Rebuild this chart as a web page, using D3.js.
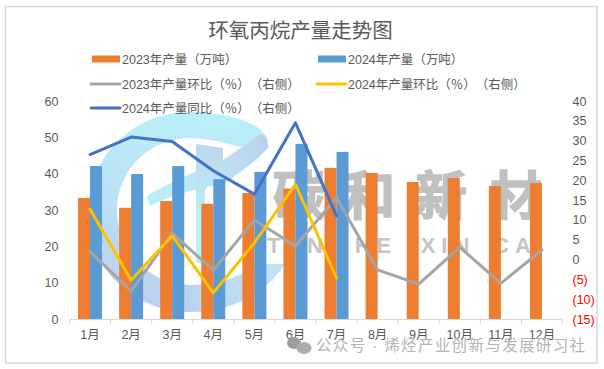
<!DOCTYPE html>
<html>
<head>
<meta charset="utf-8">
<script src="https://cdn.jsdelivr.net/npm/d3@7"></script>
<style>
  html, body { margin: 0; padding: 0; background: #fff; }
  svg { display: block; }
  text { font-family: "Liberation Sans", "Noto Sans CJK SC", sans-serif; text-spacing-trim: space-all; }
</style>
</head>
<body>
<div id="chart"></div>
<script>
// chart values
var months = ['1月', '2月', '3月', '4月', '5月', '6月', '7月', '8月', '9月', '10月', '11月', '12月'];
var output2023 = [33.3, 30.6, 32.5, 31.7, 34.7, 35.8, 41.6, 40.2, 37.7, 38.8, 36.6, 37.4];
var output2024 = [42.1, 39.9, 42.1, 38.5, 40.5, 48.2, 46.0, null, null, null, null, null];
var mom2023 = [2.0, -8.0, 6.6, -2.7, 10.0, 3.4, 15.6, -2.6, -6.2, 3.1, -6.0, 2.4];
var mom2024 = [12.7, -5.2, 6.0, -8.4, 4.2, 19.0, -4.7, null, null, null, null, null];
var yoy2024 = [26.5, 30.9, 29.8, 22.4, 16.5, 34.5, 11.0, null, null, null, null, null];
var leftTicks = [0, 10, 20, 30, 40, 50, 60];
var rightTicks = [-15, -10, -5, 0, 5, 10, 15, 20, 25, 30, 35, 40];

var barSeries = [
  { name: '2023年产量（万吨）', values: output2023, color: '#ED7D31' },
  { name: '2024年产量（万吨）', values: output2024, color: '#5B9BD5' }
];
var lineSeries = [
  { name: '2023年产量环比（％）（右侧）', values: mom2023, color: '#A5A5A5' },
  { name: '2024年产量环比（％）（右侧）', values: mom2024, color: '#FFC000' },
  { name: '2024年产量同比（％）（右侧）', values: yoy2024, color: '#4472C4' }
];

var attrs = {
  svgWidth: 604,
  svgHeight: 369,
  marginTop: 101,
  marginBottom: 50,
  marginLeft: 69.5,
  marginRight: 41.5,
  barWidth: 12,
  textColor: '#595959',
  gridColor: '#d9d9d9'
};

var calc = {};
calc.chartWidth = attrs.svgWidth - attrs.marginLeft - attrs.marginRight;
calc.chartHeight = attrs.svgHeight - attrs.marginTop - attrs.marginBottom;

//##########################  SCALES  #####################
var scales = {};
scales.x = d3.scaleBand().domain(months).range([0, calc.chartWidth]);
scales.inner = d3.scaleBand().domain([0, 1]).range([-attrs.barWidth, attrs.barWidth]);
scales.left = d3.scaleLinear().domain([0, 60]).range([calc.chartHeight, 0]);
scales.right = d3.scaleLinear().domain([-15, 40]).range([calc.chartHeight, 0]);

var svg = d3.select('#chart').append('svg')
  .attr('width', attrs.svgWidth)
  .attr('height', attrs.svgHeight);

// gradients for the logo behind the chart
var defs = svg.append('defs');
function addGradient(id, x1, y1, x2, y2, stops) {
  var g = defs.append('linearGradient').attr('id', id)
    .attr('gradientUnits', 'userSpaceOnUse')
    .attr('x1', x1).attr('y1', y1).attr('x2', x2).attr('y2', y2);
  stops.forEach(function (s) {
    g.append('stop').attr('offset', s[0]).attr('stop-color', s[1]);
  });
}
addGradient('ringFill', 190, 112, 170, 312, [[0, '#b9f0f9'], [0.35, '#bbe4f5'], [1, '#bccfee']]);
addGradient('tailFill', 170, 300, 285, 270, [[0, '#bccfee'], [1, '#bde6f6']]);
addGradient('bandFill', 150, 200, 268, 140, [[0, '#b9f0f9'], [0.6, '#bde0f3'], [1, '#bccfee']]);
addGradient('barFill', 210, 144, 210, 265, [[0, '#bdd6ee'], [0.6, '#b9f0f9'], [1, '#b9f0f9']]);

// frame
svg.append('rect')
  .attr('x', 5.5).attr('y', 6.5)
  .attr('width', 591.5).attr('height', 356.5)
  .attr('fill', '#fff')
  .attr('stroke', attrs.gridColor)
  .attr('stroke-width', 1.5);

//##########################  WATERMARK  ###################
var mark = svg.append('g').attr('class', 'watermark');
mark.append('path')
  .attr('d', 'M268,140 C262,122 225,112 190,112 C130,112 88,160 88,212 C88,270 135,312 190,312 L190,285 C150,285 117,250 117,210 C117,170 150,138 190,138 C205,138 222,142 240,147 Z')
  .attr('fill', 'url(#ringFill)');
mark.append('path')
  .attr('d', 'M190,312 C230,312 265,295 285,264 L258,264 C240,278 215,285 190,285 Z')
  .attr('fill', 'url(#tailFill)');
mark.append('path')
  .attr('d', 'M147,196 C170,182 200,170 223,160 C235,152 250,142 260,134 C266,136 269,142 268,148 C255,162 235,176 223,184 C200,188 170,195 150,206 Z')
  .attr('fill', 'url(#bandFill)');
mark.append('path')
  .attr('d', 'M196,144 L223,148 L223,165 L205,190 L205,265 L196,262 Z')
  .attr('fill', 'url(#barFill)');

var markChars = [
  { cn: '碳', en: 'TAN', x: 299, xEn: 298 },
  { cn: '和', en: 'HE', x: 369, xEn: 376 },
  { cn: '新', en: 'XIN', x: 441, xEn: 448 },
  { cn: '材', en: 'CAI', x: 516, xEn: 521 }
];
markChars.forEach(function (d) {
  mark.append('text')
    .attr('x', d.x).attr('y', 215)
    .attr('text-anchor', 'middle')
    .attr('fill', '#c0c0c0')
    .attr('stroke', '#c0c0c0')
    .attr('stroke-width', 1.6)
    .style('font-family', '"Noto Sans CJK SC"')
    .style('font-weight', 700)
    .style('font-size', '52px')
    .text(d.cn);
  mark.append('text')
    .attr('x', d.xEn).attr('y', 253)
    .attr('text-anchor', 'middle')
    .attr('fill', '#c4c4c4')
    .style('font-weight', 700)
    .style('font-size', '22px')
    .style('letter-spacing', '6px')
    .text(d.en);
});

//#######################  DRAWING ######################
var chart = svg.append('g')
  .attr('class', 'chart')
  .attr('transform', 'translate(' + attrs.marginLeft + ',' + attrs.marginTop + ')');

// bars
barSeries.forEach(function (s, i) {
  chart.append('g').attr('class', 'bars-' + i)
    .selectAll('rect')
    .data(s.values.map(function (v, j) { return { month: months[j], value: v }; })
      .filter(function (d) { return d.value !== null; }))
    .enter().append('rect')
    .attr('x', function (d) { return scales.x(d.month) + scales.x.bandwidth() / 2 + scales.inner(i); })
    .attr('y', function (d) { return scales.left(d.value); })
    .attr('width', scales.inner.bandwidth())
    .attr('height', function (d) { return calc.chartHeight - scales.left(d.value); })
    .attr('fill', s.color);
});

// bottom axis, ticks sit on the category boundaries
var bottom = chart.append('g').attr('class', 'bottom-axis')
  .attr('transform', 'translate(0,' + calc.chartHeight + ')')
  .call(d3.axisBottom(scales.x).tickSize(0).tickPadding(11));
bottom.select('.domain').attr('stroke', attrs.gridColor).attr('stroke-width', 1.2);
bottom.selectAll('text').attr('fill', attrs.textColor).style('font-size', '12.5px');
bottom.selectAll('.boundary')
  .data(d3.range(months.length + 1))
  .enter().append('line')
  .attr('class', 'boundary')
  .attr('x1', function (d) { return d * scales.x.step(); })
  .attr('x2', function (d) { return d * scales.x.step(); })
  .attr('y1', 0).attr('y2', 5)
  .attr('stroke', attrs.gridColor)
  .attr('stroke-width', 1);

// left axis
var left = chart.append('g').attr('class', 'left-axis')
  .call(d3.axisLeft(scales.left).tickValues(leftTicks).tickSize(0).tickPadding(11));
left.select('.domain').remove();
left.selectAll('text').attr('fill', attrs.textColor).style('font-size', '12.5px');

// right axis, negatives in red brackets
var right = chart.append('g').attr('class', 'right-axis')
  .attr('transform', 'translate(' + calc.chartWidth + ',0)')
  .call(d3.axisRight(scales.right).tickValues(rightTicks).tickSize(0).tickPadding(10)
    .tickFormat(function (d) { return d < 0 ? '(' + (-d) + ')' : d; }));
right.select('.domain').remove();
right.selectAll('text')
  .attr('fill', function (d) { return d < 0 ? '#ff0000' : attrs.textColor; })
  .style('font-size', '12.5px');

// lines
var line = d3.line()
  .defined(function (d) { return d.value !== null; })
  .x(function (d) { return scales.x(d.month) + scales.x.bandwidth() / 2; })
  .y(function (d) { return scales.right(d.value); });

lineSeries.forEach(function (s) {
  chart.append('path')
    .datum(s.values.map(function (v, j) { return { month: months[j], value: v }; }))
    .attr('fill', 'none')
    .attr('stroke', s.color)
    .attr('stroke-width', 3)
    .attr('stroke-linejoin', 'round')
    .attr('stroke-linecap', 'round')
    .attr('d', line);
});

//##########################  TITLE, LEGEND  ###################
svg.append('text')
  .attr('x', 300.5).attr('y', 38)
  .attr('text-anchor', 'middle')
  .attr('fill', attrs.textColor)
  .style('font-size', '20.5px')
  .text('环氧丙烷产量走势图');

var legendSlots = [
  { s: barSeries[0], x: 92, y: 59, bar: true },
  { s: barSeries[1], x: 318, y: 59, bar: true },
  { s: lineSeries[0], x: 90, y: 84 },
  { s: lineSeries[1], x: 316, y: 84 },
  { s: lineSeries[2], x: 90, y: 108 }
];
legendSlots.forEach(function (d) {
  if (d.bar) {
    svg.append('rect')
      .attr('x', d.x).attr('y', d.y - 3.5)
      .attr('width', 28).attr('height', 7)
      .attr('fill', d.s.color);
  } else {
    svg.append('line')
      .attr('x1', d.x + 1).attr('x2', d.x + 30)
      .attr('y1', d.y).attr('y2', d.y)
      .attr('stroke', d.s.color)
      .attr('stroke-width', 3)
      .attr('stroke-linecap', 'round');
  }
  svg.append('text')
    .attr('x', d.bar ? d.x + 30 : d.x + 32)
    .attr('y', d.y + 4.5)
    .attr('fill', attrs.textColor)
    .style('font-size', '12.5px')
    .text(d.s.name);
});

// wechat signature over the chart
var sign = svg.append('g').attr('class', 'signature');
sign.append('ellipse').attr('cx', 294).attr('cy', 343).attr('rx', 7).attr('ry', 6).attr('fill', '#9d9d9d');
sign.append('ellipse').attr('cx', 304).attr('cy', 348).attr('rx', 7.5).attr('ry', 6).attr('fill', '#ababab');
sign.append('text')
  .attr('x', 316).attr('y', 351)
  .attr('fill', '#b4b4b4')
  .attr('textLength', 269)
  .style('font-size', '15.5px')
  .text('公众号 · 烯烃产业创新与发展研习社');
</script>
</body>
</html>
